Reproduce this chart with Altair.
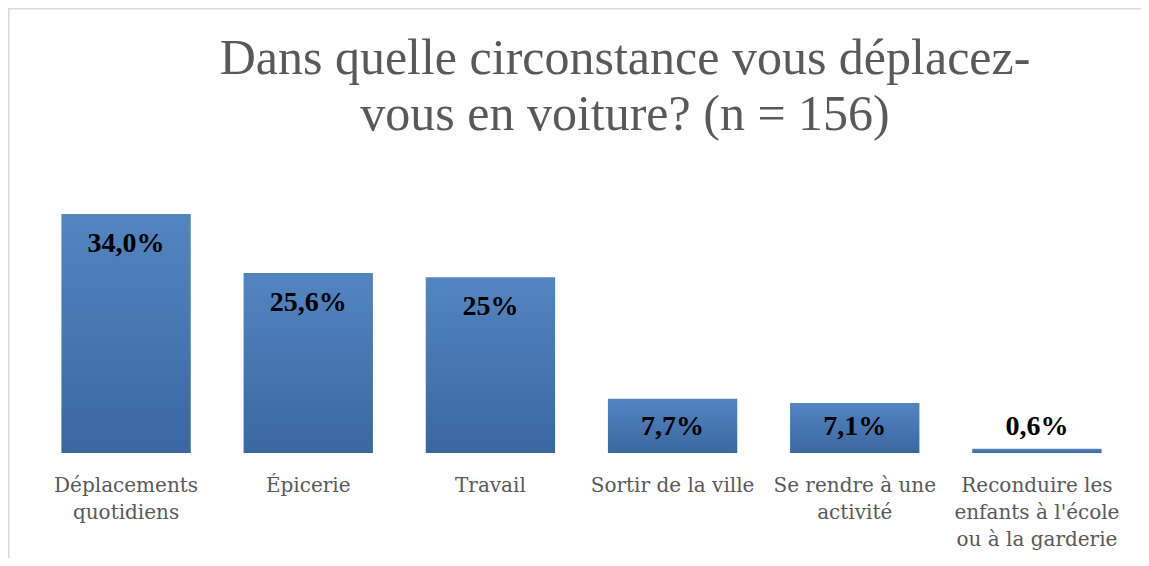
import altair as alt
import pandas as pd

categories = [
    "Déplacements|quotidiens",
    "Épicerie",
    "Travail",
    "Sortir de la ville",
    "Se rendre à une|activité",
    "Reconduire les|enfants à l'école|ou à la garderie",
]
values = [34.0, 25.6, 25.0, 7.7, 7.1, 0.6]
value_labels = ["34,0%", "25,6%", "25%", "7,7%", "7,1%", "0,6%"]
title_lines = ["Dans quelle circonstance vous déplacez-", "vous en voiture? (n = 156)"]

df = pd.DataFrame({"categorie": categories, "valeur": values, "etiquette": value_labels})

W = 1093
H = 239
SERIF = "DejaVu Serif"
TSERIF = "Liberation Serif"

x_enc = alt.X(
    "categorie:N",
    sort=None,
    scale=alt.Scale(paddingInner=0.29, paddingOuter=0.145),
    axis=alt.Axis(
        title=None,
        labelAngle=0,
        domain=False,
        ticks=False,
        grid=False,
        labelPadding=22,
        labelFontSize=20,
        labelFont=SERIF,
        labelColor="#595959",
        labelLineHeight=27,
        labelLimit=400,
        labelExpr="split(datum.label, '|')",
    ),
)
y_scale = alt.Scale(domain=[0, 34], nice=False, zero=True)

gradient = alt.Gradient(
    gradient="linear",
    x1=0, y1=0, x2=0, y2=1,
    stops=[
        alt.GradientStop(color="#5385c1", offset=0),
        alt.GradientStop(color="#3b67a1", offset=1),
    ],
)

bars = alt.Chart(df).mark_bar(color=gradient).encode(
    x=x_enc,
    y=alt.Y("valeur:Q", scale=y_scale, axis=None),
)

labels = (
    alt.Chart(df)
    .transform_calculate(pos="max(datum.valeur, 7.9)")
    .mark_text(font=TSERIF, fontSize=28, fontWeight="bold", color="black",
               baseline="alphabetic", dy=38)
    .encode(
        x=x_enc,
        y=alt.Y("pos:Q", scale=y_scale, axis=None),
        text="etiquette:N",
    )
)

one = pd.DataFrame({"k": [0]})
top_border = alt.Chart(one).mark_rule(color="#d9d9d9", strokeWidth=1.5).encode(
    x=alt.value(-27), x2=alt.value(W + 13), y=alt.value(-205.25)
)
left_border = alt.Chart(one).mark_rule(color="#d9d9d9", strokeWidth=1.5).encode(
    x=alt.value(-26.25), y=alt.value(-206), y2=alt.value(H + 105)
)
title = alt.Chart(one).mark_text(
    text=title_lines,
    font=TSERIF,
    fontSize=50,
    fontWeight="normal",
    color="#595959",
    align="center",
    baseline="alphabetic",
    lineHeight=56,
).encode(x=alt.value(590), y=alt.value(-140))

chart = (
    alt.layer(top_border, left_border, title, bars, labels)
    .properties(
        width=W,
        height=H,
        padding={"left": 27, "top": 206, "right": 13, "bottom": 105},
        autosize=alt.AutoSizeParams(type="none"),
    )
    .configure_view(stroke=None)
)

chart.save("out.html", embed_options={"renderer": "svg", "actions": False})
